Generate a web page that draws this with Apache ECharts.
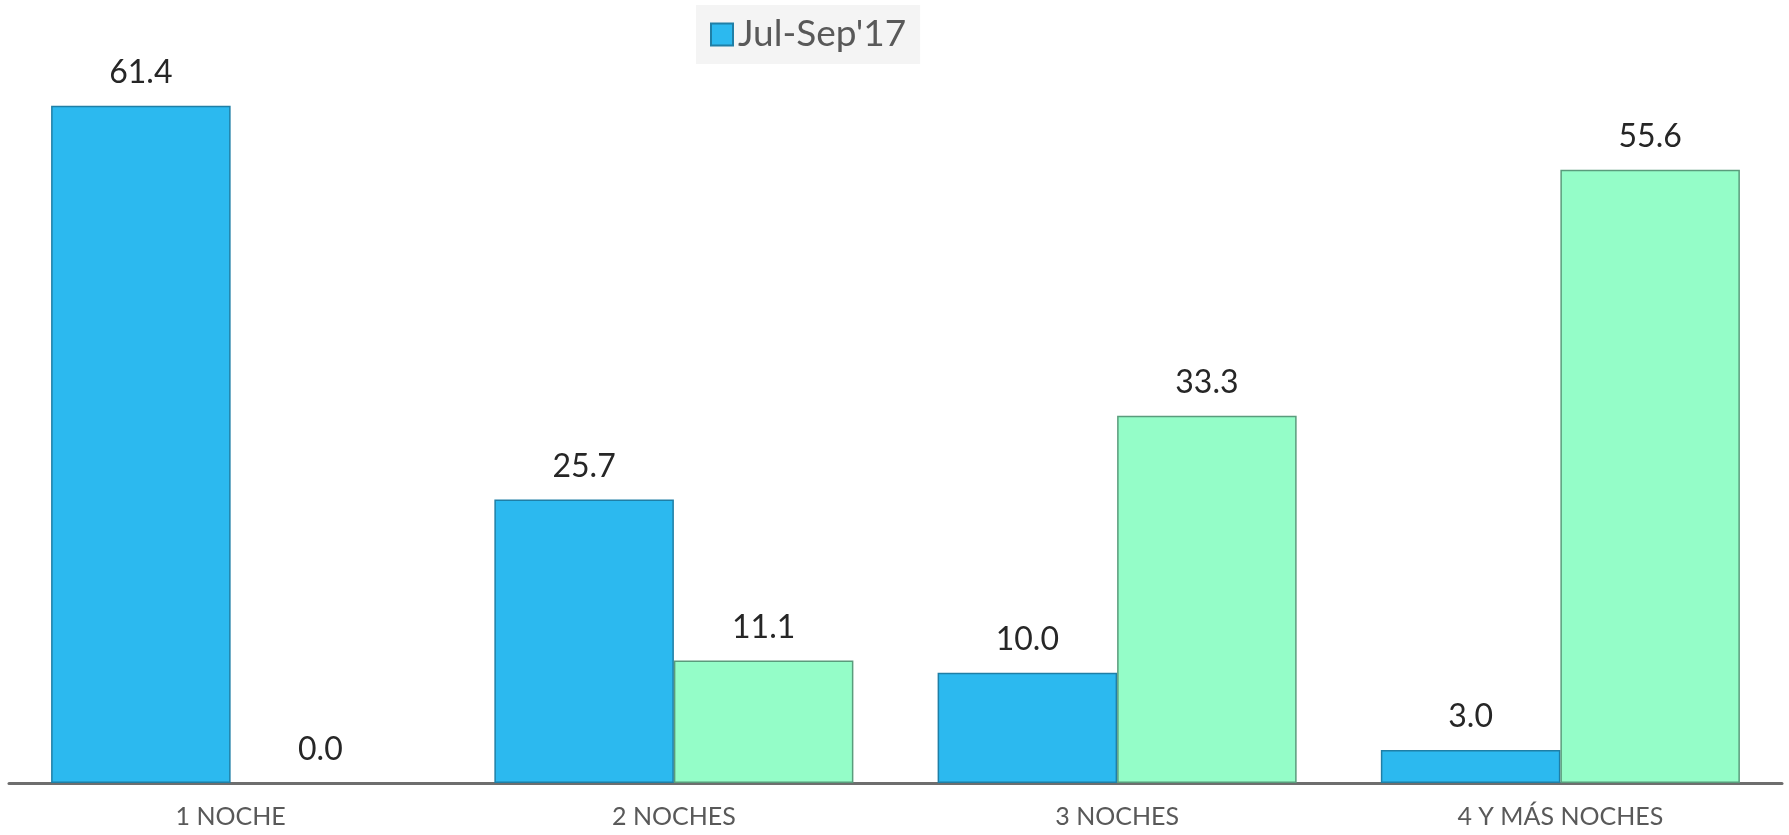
<!DOCTYPE html>
<html>
<head>
<meta charset="utf-8">
<script src="https://cdn.jsdelivr.net/npm/echarts@6/dist/echarts.min.js"></script>
<style>html,body{margin:0;padding:0;background:#fff;}#c{width:1789px;height:835px;}</style>
</head>
<body>
<div id="c"></div>
<script>
const categories = ['1 NOCHE', '2 NOCHES', '3 NOCHES', '4 Y MÁS NOCHES'];
const seriesNames = ["Jul-Sep'17", "Jul-Sep'18"];
const valuesA = [61.4, 25.7, 10.0, 3.0];
const valuesB = [0.0, 11.1, 33.3, 55.6];

const blue = '#2cb9ef';
const green = '#94fdc8';
const chart = echarts.init(document.getElementById('c'));
const labelStyle = {
  show: true, position: 'top', distance: 17,
  fontFamily: 'Lato, "Open Sans", sans-serif', fontSize: 32, color: '#262626',
  formatter: p => p.value.toFixed(1)
};
function items(vals, border) {
  return vals.map(v => v === 0 ? {value: v, itemStyle: {borderWidth: 0}} : {value: v});
}
chart.setOption({
  animation: false,
  legend: {
    data: [{name: seriesNames[0], icon: 'rect'}],
    left: 696, top: 5,
    backgroundColor: '#f4f4f4',
    padding: [11, 14, 11, 14],
    itemWidth: 22, itemHeight: 22, itemGap: 8,
    textStyle: {fontFamily: 'Lato, "Open Sans", sans-serif', fontSize: 37, color: '#595959'}
  },
  grid: {left: 9, right: 7, top: 11, bottom: 52},
  xAxis: {
    type: 'category', data: categories,
    axisLine: {lineStyle: {color: '#6e6e6e', width: 3}},
    axisTick: {show: false},
    axisLabel: {fontFamily: 'Lato, "Open Sans", sans-serif', fontSize: 25, color: '#595959', margin: 21}
  },
  yAxis: {type: 'value', min: 0, max: 70, show: false, splitLine: {show: false}},
  series: [
    {
      name: seriesNames[0], type: 'bar', data: items(valuesA),
      barGap: '0%', barCategoryGap: '19%',
      itemStyle: {color: blue, borderColor: '#1f7fa6', borderWidth: 1.5},
      label: labelStyle
    },
    {
      name: seriesNames[1], type: 'bar', data: items(valuesB),
      itemStyle: {color: green, borderColor: '#5a9c7c', borderWidth: 1.5},
      label: labelStyle
    }
  ]
});
</script>
</body>
</html>
